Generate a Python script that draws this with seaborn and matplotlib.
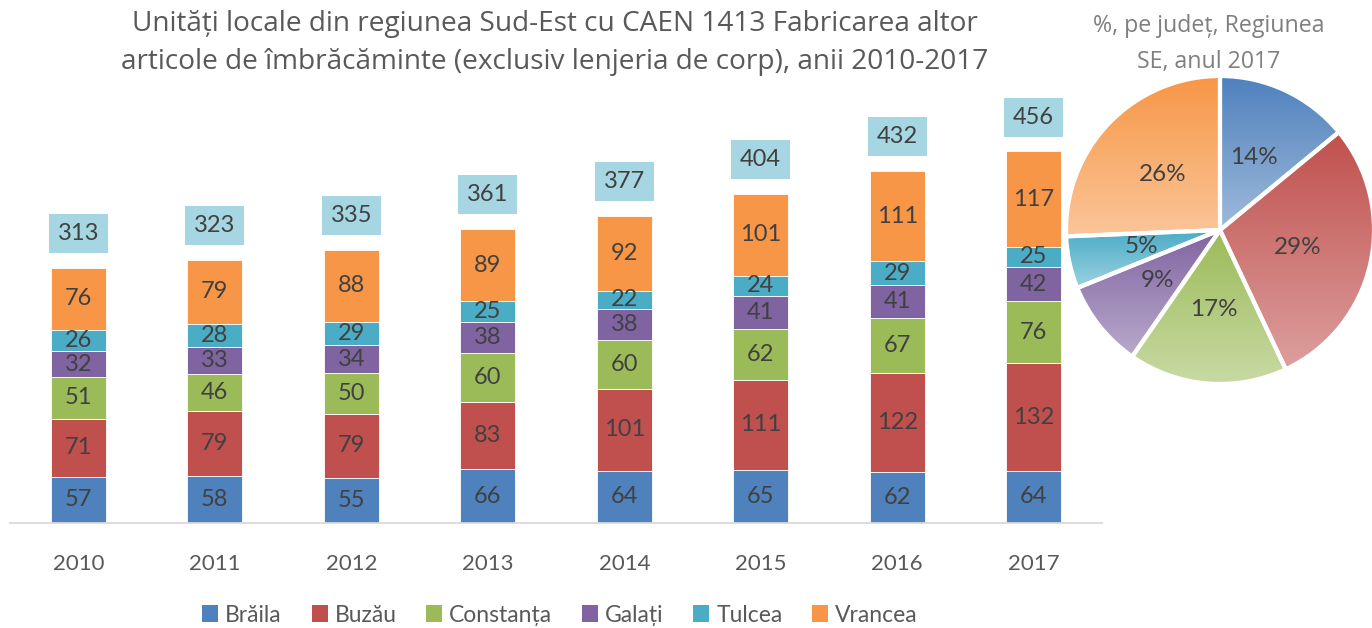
import matplotlib
matplotlib.use("Agg")
import matplotlib.pyplot as plt
import matplotlib.colors as mcolors
from matplotlib.patches import Patch
import numpy as np
import pandas as pd
import seaborn as sns

sns.set_style("white")
plt.rcParams['font.family'] = ['Lato', 'DejaVu Sans']

# data
years = ["2010", "2011", "2012", "2013", "2014", "2015", "2016", "2017"]
judete = ["Brăila", "Buzău", "Constanța", "Galați", "Tulcea", "Vrancea"]
braila = [57, 58, 55, 66, 64, 65, 62, 64]
buzau = [71, 79, 79, 83, 101, 111, 122, 132]
constanta = [51, 46, 50, 60, 60, 62, 67, 76]
galati = [32, 33, 34, 38, 38, 41, 41, 42]
tulcea = [26, 28, 29, 25, 22, 24, 29, 25]
vrancea = [76, 79, 88, 89, 92, 101, 111, 117]
totals = [313, 323, 335, 361, 377, 404, 432, 456]

colors = ["#4F81BD", "#C0504D", "#9BBB59", "#8064A2", "#4BACC6", "#F79646"]

series = [braila, buzau, constanta, galati, tulcea, vrancea]
df = pd.DataFrame({
    "an": np.tile(years, len(judete)),
    "judet": np.repeat(judete, len(years)),
    "val": np.concatenate(series),
})

fig = plt.figure(figsize=(13.72, 6.28), dpi=100)
ax = fig.add_axes([0.0073, 0.1672, 0.7959, 0.7268])

bottom = np.zeros(len(years))
for jud, col in zip(judete, colors):
    sub = df[df["judet"] == jud]
    sns.barplot(data=sub, x="an", y="val", color=col, saturation=1, width=0.4,
                errorbar=None, bottom=bottom, edgecolor="white", linewidth=0.6, ax=ax)
    ax.bar_label(ax.containers[-1], label_type="center", fontsize=17, color="#404040")
    bottom = bottom + sub["val"].to_numpy()

# totals in light-blue boxes above each bar
for i, t in enumerate(totals):
    ax.text(i, t + 42, str(t), ha="center", va="center", fontsize=17, color="#404040",
            bbox=dict(boxstyle="square,pad=0.38", facecolor="#A6D6E2", edgecolor="none"))

ax.set_ylim(0, 560)
ax.set_xlim(-0.5, len(years) - 0.5)
ax.set_xlabel("")
ax.set_ylabel("")
ax.set_yticks([])
for s in ["top", "left", "right"]:
    ax.spines[s].set_visible(False)
ax.spines["bottom"].set_color("#D9D9D9")
ax.spines["bottom"].set_linewidth(1.3)
ax.tick_params(axis="x", length=0, pad=22, labelsize=16, labelcolor="#595959")

fig.text(555 / 1372, 1 - 43 / 628,
         "Unități locale din regiunea Sud-Est cu CAEN 1413 Fabricarea altor\n"
         "articole de îmbrăcăminte (exclusiv lenjeria de corp), anii 2010-2017",
         ha="center", va="center", fontsize=20.2, color="#595959",
         family=["Open Sans", "DejaVu Sans"], linespacing=1.5)

handles = [Patch(facecolor=c, edgecolor="none") for c in colors]
fig.legend(handles, judete, loc="center", bbox_to_anchor=(560 / 1372, 1 - 615 / 628),
           ncol=6, frameon=False, fontsize=16.5, handlelength=0.7, handleheight=0.7,
           handletextpad=0.3, columnspacing=1.3, labelcolor="#595959")

# pie for 2017 with vertical gradients per wedge
vals2017 = [s[-1] for s in series]
pax = fig.add_axes([1066 / 1372, (628 - 384) / 628, 308 / 1372, 308 / 628])
wedges, texts, autotexts = pax.pie(
    vals2017, colors=colors, startangle=90, counterclock=False,
    autopct="%1.0f%%", pctdistance=0.52,
    wedgeprops=dict(edgecolor="white", linewidth=3),
    textprops=dict(fontsize=17.5, color="#404040"))
for w, c in zip(wedges, colors):
    ext = w.get_path().get_extents()
    base = np.array(mcolors.to_rgb(c))
    t = np.linspace(0, 1, 128)[:, None, None]
    grad = base * (1 - 0.45 * t) + 0.45 * t
    grad = np.repeat(grad, 2, axis=1)
    im = pax.imshow(grad, extent=[ext.x0, ext.x1, ext.y0, ext.y1], origin="upper",
                    aspect="auto", interpolation="bilinear", zorder=0.5)
    im.set_clip_path(w)
    w.set_facecolor("none")
    w.set_zorder(1)
for at in autotexts:
    at.set_zorder(3)
pax.set_xlim(-1.0, 1.0)
pax.set_ylim(-1.0, 1.0)
pax.set_aspect("equal")
pax.axis("off")

fig.text(1209 / 1372, 1 - 44 / 628, "%, pe județ, Regiunea\nSE, anul 2017",
         ha="center", va="center", fontsize=16.7, color="#7F7F7F",
         family=["Open Sans", "DejaVu Sans"], linespacing=1.62)

fig.savefig("out.png", dpi=100)
